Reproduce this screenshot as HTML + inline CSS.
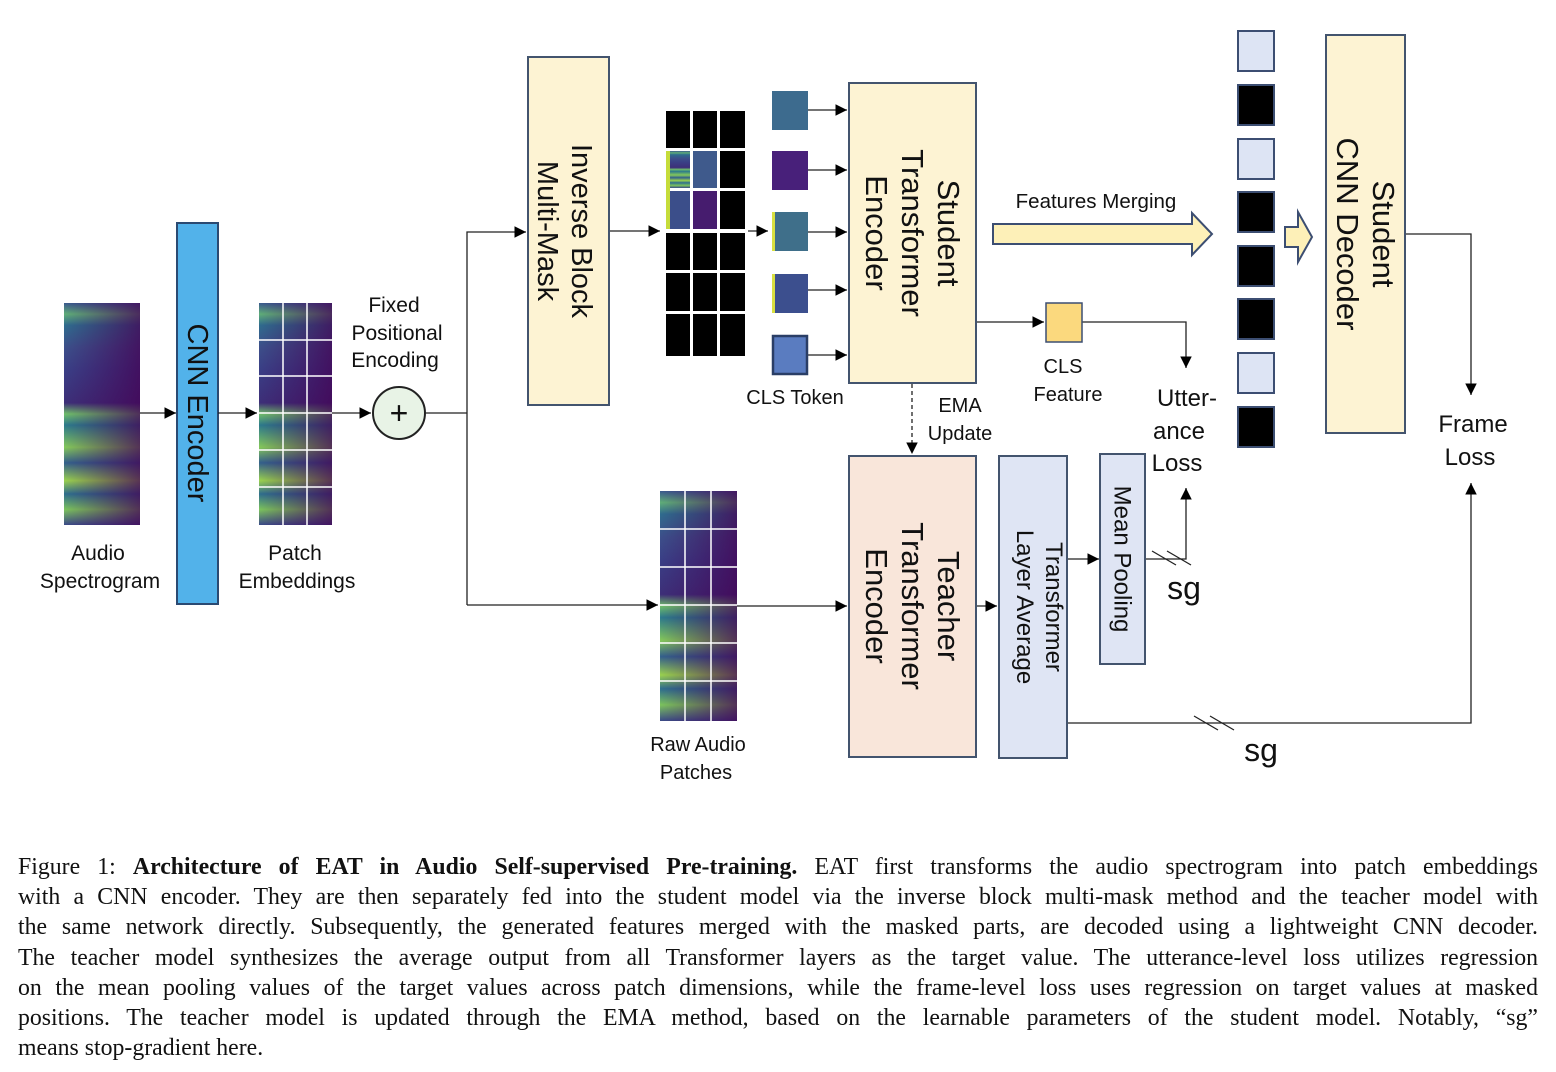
<!DOCTYPE html>
<html><head><meta charset="utf-8"><style>
body{margin:0;background:#fff;width:1556px;height:1072px;overflow:hidden;position:relative}
svg{position:absolute;left:0;top:0}
svg text{font-family:"Liberation Sans","DejaVu Sans",sans-serif;fill:#111}
.cap{position:absolute;left:18px;top:852px;width:1520px;font-family:"Liberation Serif",serif;font-size:23.8px;color:#111}
.cap div{height:30.2px;line-height:30.2px;text-align:justify;text-align-last:justify;white-space:nowrap}
.cap div.l{text-align-last:left}
</style></head><body>
<svg width="1556" height="850" viewBox="0 0 1556 850">
<defs>
<linearGradient id="sp" x1="0" y1="0" x2="0" y2="1">
<stop offset="0" stop-color="#3a5a8e"/><stop offset="0.05" stop-color="#5fae78"/><stop offset="0.1" stop-color="#2f6c8e"/>
<stop offset="0.2" stop-color="#3c4f8a"/><stop offset="0.3" stop-color="#3a3f86"/><stop offset="0.45" stop-color="#3d2f78"/>
<stop offset="0.5" stop-color="#6fbf6a"/><stop offset="0.55" stop-color="#2c7a8c"/><stop offset="0.65" stop-color="#84c85a"/>
<stop offset="0.72" stop-color="#33608c"/><stop offset="0.8" stop-color="#9ad24e"/><stop offset="0.86" stop-color="#2e6e8e"/>
<stop offset="0.93" stop-color="#7cc45c"/><stop offset="1" stop-color="#3a4a88"/></linearGradient>
<linearGradient id="sh" x1="0" y1="0" x2="1" y2="0">
<stop offset="0" stop-color="#440154" stop-opacity="0"/><stop offset="0.4" stop-color="#440154" stop-opacity="0.3"/><stop offset="1" stop-color="#440154" stop-opacity="0.75"/></linearGradient>
<marker id="a" viewBox="0 0 10 10" refX="10" refY="5" markerWidth="9" markerHeight="9" orient="auto-start-reverse"><path d="M0,0L10,5L0,10z" fill="#000"/></marker>
</defs>
<rect x="64" y="303" width="76" height="222" fill="url(#sp)"/><rect x="64" y="303" width="76" height="222" fill="url(#sh)"/>
<rect x="177" y="223" width="41" height="381" fill="#52b2ea" stroke="#2b4a72" stroke-width="2"/>
<text transform="translate(197,413) rotate(90)" text-anchor="middle" dominant-baseline="central" font-size="29">CNN Encoder</text>
<rect x="259" y="303" width="73" height="222" fill="url(#sp)"/><rect x="259" y="303" width="73" height="222" fill="url(#sh)"/>
<g stroke="#fff" stroke-width="1.5"><line x1="283" y1="303" x2="283" y2="525"/><line x1="307" y1="303" x2="307" y2="525"/>
<line x1="259" y1="340" x2="332" y2="340"/><line x1="259" y1="376" x2="332" y2="376"/><line x1="259" y1="413" x2="332" y2="413"/><line x1="259" y1="450" x2="332" y2="450"/><line x1="259" y1="487" x2="332" y2="487"/></g>
<g stroke="#222" stroke-width="1.3" fill="none">
<line x1="140" y1="413" x2="176" y2="413" marker-end="url(#a)"/>
<line x1="218" y1="413" x2="257" y2="413" marker-end="url(#a)"/>
<line x1="332" y1="413" x2="371" y2="413" marker-end="url(#a)"/>
<polyline points="426,413 467,413"/>
<polyline points="467,605 467,232 526,232" marker-end="url(#a)"/>
<polyline points="467,605 658,605" marker-end="url(#a)"/>
<line x1="609" y1="231" x2="660" y2="231" marker-end="url(#a)"/>
<line x1="748" y1="231" x2="768" y2="231" marker-end="url(#a)"/>
<line x1="808" y1="110" x2="847" y2="110" marker-end="url(#a)"/>
<line x1="808" y1="170" x2="847" y2="170" marker-end="url(#a)"/>
<line x1="808" y1="232" x2="847" y2="232" marker-end="url(#a)"/>
<line x1="808" y1="290" x2="847" y2="290" marker-end="url(#a)"/>
<line x1="808" y1="355" x2="847" y2="355" marker-end="url(#a)"/>
<line x1="976" y1="322" x2="1044" y2="322" marker-end="url(#a)"/>
<polyline points="1082,322 1186,322 1186,368" marker-end="url(#a)"/>
<polyline points="1405,234 1471,234 1471,395" marker-end="url(#a)"/>
<line x1="912" y1="384" x2="912" y2="454" stroke-dasharray="4,3" marker-end="url(#a)"/>
<line x1="737" y1="606" x2="847" y2="606" marker-end="url(#a)"/>
<line x1="976" y1="606" x2="997" y2="606" marker-end="url(#a)"/>
<line x1="1067" y1="559" x2="1099" y2="559" marker-end="url(#a)"/>
<polyline points="1145,559 1186,559 1186,488" marker-end="url(#a)"/>
<polyline points="1067,723 1471,723 1471,483" marker-end="url(#a)"/>
<line x1="1152" y1="551" x2="1176" y2="565"/><line x1="1167" y1="551" x2="1191" y2="565"/>
<line x1="1194" y1="716" x2="1218" y2="730"/><line x1="1210" y1="716" x2="1234" y2="730"/>
</g>
<circle cx="399" cy="413" r="26" fill="#e8f3e6" stroke="#222" stroke-width="2"/>
<text x="399" y="424" text-anchor="middle" font-size="32">+</text>
<rect x="528" y="57" width="81" height="348" fill="#fdf3d3" stroke="#43546e" stroke-width="2"/>
<text transform="translate(568,231) rotate(90)" text-anchor="middle" font-size="29"><tspan x="0" y="-4">Inverse Block</tspan><tspan x="0" y="30">Multi-Mask</tspan></text>
<g fill="#000">
<rect x="666" y="111" width="24" height="37"/><rect x="693" y="111" width="24" height="37"/><rect x="720" y="111" width="25" height="37"/>
<rect x="720" y="151" width="25" height="37"/><rect x="720" y="191" width="25" height="38"/>
<rect x="666" y="233" width="24" height="37"/><rect x="693" y="233" width="24" height="37"/><rect x="720" y="233" width="25" height="37"/>
<rect x="666" y="273" width="24" height="38"/><rect x="693" y="273" width="24" height="38"/><rect x="720" y="273" width="25" height="38"/>
<rect x="666" y="314" width="24" height="42"/><rect x="693" y="314" width="24" height="42"/><rect x="720" y="314" width="25" height="42"/>
</g>
<rect x="666" y="151" width="24" height="37" fill="url(#sp)"/><rect x="693" y="151" width="24" height="37" fill="#3f5a8c"/>
<rect x="666" y="191" width="24" height="38" fill="#3b4e8a"/><rect x="693" y="191" width="24" height="38" fill="#461c6e"/>
<rect x="666" y="151" width="4" height="78" fill="#c6dc3a"/>
<rect x="772" y="91" width="36" height="39" fill="#3d6b8e"/><rect x="772" y="151" width="36" height="39" fill="#48207a"/>
<rect x="772" y="212" width="36" height="39" fill="#3f6f8a"/><rect x="772" y="274" width="36" height="39" fill="#3c4f8e"/>
<rect x="772" y="212" width="3" height="39" fill="#d8e040"/><rect x="772" y="274" width="3" height="39" fill="#d8e040"/>
<rect x="773" y="336" width="34" height="38" fill="#5a7cc0" stroke="#2a3e66" stroke-width="2.5"/>
<text x="795" y="404" text-anchor="middle" font-size="20">CLS Token</text>
<rect x="849" y="83" width="127" height="300" fill="#fdf3d3" stroke="#43546e" stroke-width="2"/>
<text transform="translate(912,233) rotate(90)" text-anchor="middle" font-size="31"><tspan x="0" y="-26">Student</tspan><tspan x="0" y="10">Transformer</tspan><tspan x="0" y="46">Encoder</tspan></text>
<text x="1096" y="208" text-anchor="middle" font-size="20.5">Features Merging</text>
<path d="M993,224 L1192,224 L1192,213 L1212,234 L1192,255 L1192,244 L993,244 Z" fill="#fdf0b8" stroke="#3c4e72" stroke-width="2"/>
<rect x="1046" y="303" width="36" height="39" fill="#fbd97e" stroke="#3c4e72" stroke-width="1.5"/>
<text x="1063" y="373" text-anchor="middle" font-size="20">CLS</text><text x="1068" y="401" text-anchor="middle" font-size="20">Feature</text>
<text x="1187" y="406" text-anchor="middle" font-size="24">Utter-</text><text x="1179" y="439" text-anchor="middle" font-size="24">ance</text><text x="1177" y="471" text-anchor="middle" font-size="24">Loss</text>
<g stroke="#3c4e72" stroke-width="2">
<rect x="1238" y="31" width="36" height="40" fill="#dde4f4"/><rect x="1238" y="85" width="36" height="40" fill="#000"/>
<rect x="1238" y="139" width="36" height="40" fill="#dde4f4"/><rect x="1238" y="192" width="36" height="40" fill="#000"/>
<rect x="1238" y="246" width="36" height="40" fill="#000"/><rect x="1238" y="299" width="36" height="40" fill="#000"/>
<rect x="1238" y="353" width="36" height="40" fill="#dde4f4"/><rect x="1238" y="407" width="36" height="40" fill="#000"/>
</g>
<path d="M1285,227 L1298,227 L1298,212 L1312,237 L1298,262 L1298,247 L1285,247 Z" fill="#fdf0b8" stroke="#3c4e72" stroke-width="2"/>
<rect x="1326" y="35" width="79" height="398" fill="#fdf3d3" stroke="#43546e" stroke-width="2"/>
<text transform="translate(1365,234) rotate(90)" text-anchor="middle" font-size="31"><tspan x="0" y="-8">Student</tspan><tspan x="0" y="28">CNN Decoder</tspan></text>
<text x="1473" y="432" text-anchor="middle" font-size="24">Frame</text><text x="1470" y="465" text-anchor="middle" font-size="24">Loss</text>
<text x="960" y="412" text-anchor="middle" font-size="20">EMA</text><text x="960" y="440" text-anchor="middle" font-size="20">Update</text>
<rect x="660" y="491" width="77" height="230" fill="url(#sp)"/><rect x="660" y="491" width="77" height="230" fill="url(#sh)"/>
<g stroke="#fff" stroke-width="1.5"><line x1="685" y1="491" x2="685" y2="721"/><line x1="711" y1="491" x2="711" y2="721"/>
<line x1="660" y1="529" x2="737" y2="529"/><line x1="660" y1="567" x2="737" y2="567"/><line x1="660" y1="605" x2="737" y2="605"/><line x1="660" y1="643" x2="737" y2="643"/><line x1="660" y1="681" x2="737" y2="681"/></g>
<text x="698" y="751" text-anchor="middle" font-size="20">Raw Audio</text><text x="696" y="779" text-anchor="middle" font-size="20">Patches</text>
<rect x="849" y="456" width="127" height="301" fill="#f9e6da" stroke="#43546e" stroke-width="2"/>
<text transform="translate(912,606) rotate(90)" text-anchor="middle" font-size="31"><tspan x="0" y="-26">Teacher</tspan><tspan x="0" y="10">Transformer</tspan><tspan x="0" y="46">Encoder</tspan></text>
<rect x="999" y="456" width="68" height="302" fill="#dfe5f4" stroke="#43546e" stroke-width="2"/>
<text transform="translate(1033,607) rotate(90)" text-anchor="middle" font-size="24"><tspan x="0" y="-13">Transformer</tspan><tspan x="0" y="16">Layer Average</tspan></text>
<rect x="1100" y="454" width="45" height="210" fill="#dfe5f4" stroke="#43546e" stroke-width="2"/>
<text transform="translate(1122,559) rotate(90)" text-anchor="middle" dominant-baseline="central" font-size="24">Mean Pooling</text>
<text x="1184" y="599" text-anchor="middle" font-size="32">sg</text>
<text x="1261" y="761" text-anchor="middle" font-size="32">sg</text>
<text x="98" y="560" text-anchor="middle" font-size="21">Audio</text><text x="100" y="588" text-anchor="middle" font-size="21">Spectrogram</text>
<text x="295" y="560" text-anchor="middle" font-size="21">Patch</text><text x="297" y="588" text-anchor="middle" font-size="21">Embeddings</text>
<text x="394" y="312" text-anchor="middle" font-size="21">Fixed</text><text x="397" y="340" text-anchor="middle" font-size="21">Positional</text><text x="395" y="367" text-anchor="middle" font-size="21">Encoding</text>
</svg>
<div class="cap">
<div>Figure 1: <b>Architecture of EAT in Audio Self-supervised Pre-training.</b> EAT first transforms the audio spectrogram into patch embeddings</div>
<div>with a CNN encoder. They are then separately fed into the student model via the inverse block multi-mask method and the teacher model with</div>
<div>the same network directly. Subsequently, the generated features merged with the masked parts, are decoded using a lightweight CNN decoder.</div>
<div>The teacher model synthesizes the average output from all Transformer layers as the target value. The utterance-level loss utilizes regression</div>
<div>on the mean pooling values of the target values across patch dimensions, while the frame-level loss uses regression on target values at masked</div>
<div>positions. The teacher model is updated through the EMA method, based on the learnable parameters of the student model. Notably, “sg”</div>
<div class="l">means stop-gradient here.</div>
</div>
</body></html>
